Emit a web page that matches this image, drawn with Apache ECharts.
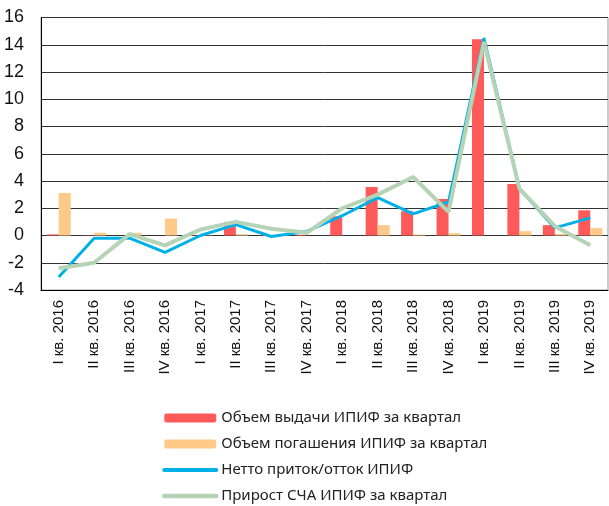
<!DOCTYPE html>
<html><head><meta charset="utf-8">
<script src="https://cdn.jsdelivr.net/npm/echarts@6/dist/echarts.min.js"></script>
<style>html,body{margin:0;padding:0;background:#fff}#c{width:609px;height:506px}</style>
</head><body><div id="c"></div>
<script>
const categories = ['I кв. 2016','II кв. 2016','III кв. 2016','IV кв. 2016','I кв. 2017','II кв. 2017','III кв. 2017','IV кв. 2017','I кв. 2018','II кв. 2018','III кв. 2018','IV кв. 2018','I кв. 2019','II кв. 2019','III кв. 2019','IV кв. 2019'];
const issued   = [0.08, 0.02, 0.0, 0.0, 0.02, 1.0, 0.02, 0.05, 1.41, 3.56, 1.78, 2.68, 14.41, 3.78, 0.76, 1.85];
const redeemed = [3.12, 0.2, 0.2, 1.24, 0.02, 0.1, 0.0, 0.0, 0.0, 0.76, 0.07, 0.17, 0.0, 0.32, 0.12, 0.54];
const netFlow  = [-3.05, -0.2, -0.2, -1.24, 0.0, 0.8, -0.07, 0.3, 1.45, 2.78, 1.59, 2.46, 14.49, 3.44, 0.56, 1.29];
const navGrowth= [-2.4, -2.0, 0.1, -0.73, 0.44, 1.0, 0.5, 0.2, 2.0, 3.0, 4.29, 1.73, 14.2, 3.44, 0.68, -0.71];
const seriesNames = ['Объем выдачи ИПИФ за квартал','Объем погашения ИПИФ за квартал','Нетто приток/отток ИПИФ','Прирост СЧА ИПИФ за квартал'];

const chart = echarts.init(document.getElementById('c'), null, {renderer:'canvas'});
chart.setOption({
  animation:false,
  grid:{left:41, right:1, top:17.5, bottom:216, show:true, borderColor:'#999', borderWidth:1},
  legend:{
    orient:'vertical', left:157, top:403, height:110, itemWidth:52, itemHeight:9, itemGap:6,
    textStyle:{fontSize:15, lineHeight:20, color:'#222', fontFamily:'Noto Sans, sans-serif'},
    data:[
      {name:seriesNames[0]},
      {name:seriesNames[1]},
      {name:seriesNames[2], itemStyle:{opacity:0}, lineStyle:{cap:'round', width:4}},
      {name:seriesNames[3], itemStyle:{opacity:0}, lineStyle:{cap:'round', width:4.5}}
    ]
  },
  xAxis:{
    type:'category', data:categories,
    axisLine:{onZero:false, lineStyle:{color:'#000', width:1}},
    axisTick:{show:false},
    axisLabel:{rotate:90, fontSize:15, color:'#111', margin:10, interval:0, fontFamily:'Liberation Sans, Arial, sans-serif'},
    splitLine:{show:false}
  },
  yAxis:{
    type:'value', min:-4, max:16, interval:2,
    axisLine:{show:true, lineStyle:{color:'#000'}},
    axisTick:{show:false},
    axisLabel:{fontSize:18, color:'#111', margin:17, fontFamily:'Liberation Sans Narrow, Arial Narrow, sans-serif'},
    splitLine:{lineStyle:{color:'#333', width:1}}
  },
  series:[
    {name:seriesNames[0], type:'bar', data:issued, barWidth:12, barGap:'0%', itemStyle:{color:'#FF5A5A'}},
    {name:seriesNames[1], type:'bar', data:redeemed, barWidth:12, barGap:'0%', itemStyle:{color:'#FFC987'}},
    {name:seriesNames[2], type:'line', data:netFlow, symbol:'none', lineStyle:{color:'#00B0E6', width:3}, itemStyle:{color:'#00B0E6'}},
    {name:seriesNames[3], type:'line', data:navGrowth, symbol:'none', lineStyle:{color:'#B5D3B5', width:4}, itemStyle:{color:'#B5D3B5'}}
  ]
});
</script></body></html>
